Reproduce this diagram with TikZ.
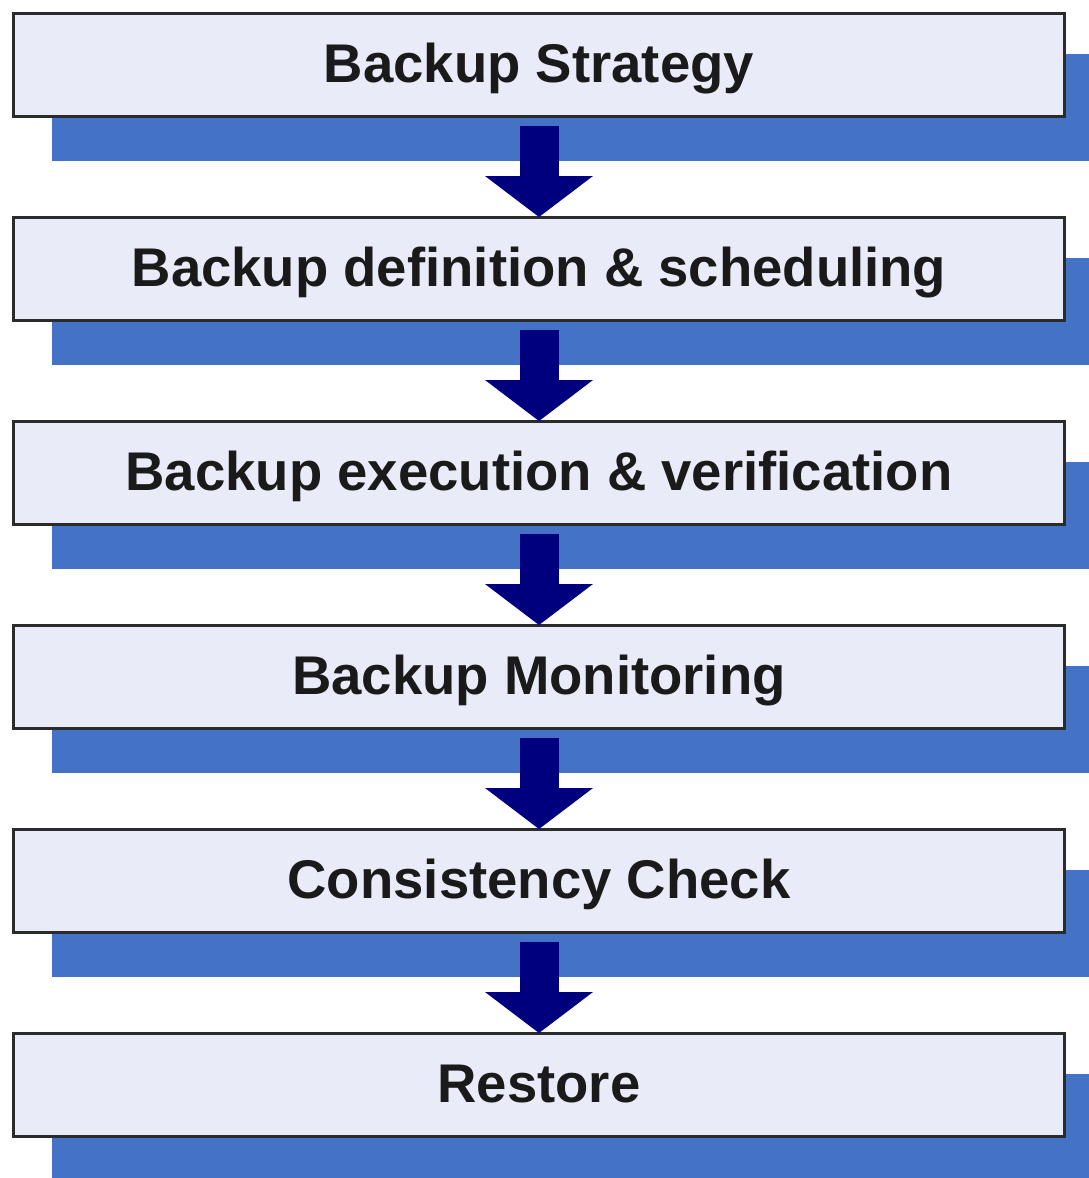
\documentclass[tikz,border=0pt]{standalone}
\usepackage{fontspec}
\setmainfont{Liberation Sans}
\usetikzlibrary{arrows.meta,calc}
\definecolor{boxfill}{HTML}{E9ECF8}
\definecolor{shadowblue}{HTML}{4472C4}
\definecolor{arrownavy}{HTML}{00007F}
\definecolor{boxline}{HTML}{2B2B2B}
\definecolor{boxtext}{HTML}{1A1A1A}
\begin{document}
\begin{tikzpicture}[x=1pt,y=-1pt,
  stepbox/.style={draw=boxline, line width=3pt, fill=boxfill,
    minimum width=1051pt, minimum height=103pt, inner sep=0pt, outer sep=0pt,
    text height=45pt, text depth=10pt,
    font=\fontsize{54.5}{60}\selectfont\bfseries, text=boxtext},
  flow/.style={draw=arrownavy, line width=39pt,
    -{Triangle[width=108pt,length=41pt,line width=0pt]}},
  shadowfill/.style={fill=shadowblue}]
\useasboundingbox (0,0) rectangle (1089,1178);
\clip (0,0) rectangle (1089,1178);
% box centres
\path (539,64.5) coordinate (c1)
      (539,268.5) coordinate (c2)
      (539,472.5) coordinate (c3)
      (539,676.5) coordinate (c4)
      (539,880.5) coordinate (c5)
      (539,1084.5) coordinate (c6);
% shadows
\foreach \i in {1,...,6}{
  \fill[shadowfill] ($(c\i)+(-487,-11)$) rectangle ($(c\i)+(560,96)$);
}
% boxes
\node[stepbox] (b1) at (c1) {Backup Strategy};
\node[stepbox] (b2) at (c2) {Backup definition \& scheduling};
\node[stepbox] (b3) at (c3) {Backup execution \& verification};
\node[stepbox] (b4) at (c4) {Backup Monitoring};
\node[stepbox] (b5) at (c5) {Consistency Check};
\node[stepbox] (b6) at (c6) {Restore};
% arrows
\foreach \a/\b in {b1/b2,b2/b3,b3/b4,b4/b5,b5/b6}{
  \draw[flow] ($(\a.south)+(0,10)$) -- (\b.north);
}
\end{tikzpicture}
\end{document}
